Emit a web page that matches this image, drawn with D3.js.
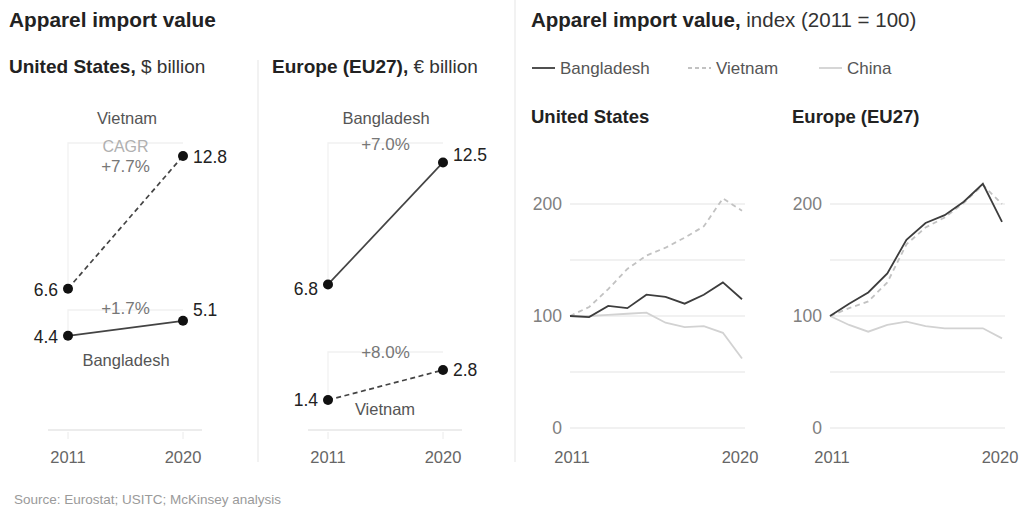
<!DOCTYPE html>
<html>
<head>
<meta charset="utf-8">
<script src="https://cdn.jsdelivr.net/npm/d3@7/dist/d3.min.js"></script>
<style>
  html, body { margin: 0; padding: 0; background: #fff; }
  svg { display: block; font-family: "Liberation Sans", Arial, sans-serif; }
</style>
</head>
<body>
<svg id="chart" width="1026" height="510"></svg>
<script>
// Endpoint values, $ / € billion
const endYears = [2011, 2020];
const usBangladesh = [4.4, 5.1];
const usVietnam = [6.6, 12.8];
const euBangladesh = [6.8, 12.5];
const euVietnam = [1.4, 2.8];
const cagrUS = { vietnam: "+7.7%", bangladesh: "+1.7%" };
const cagrEU = { bangladesh: "+7.0%", vietnam: "+8.0%" };

// Index series, 2011 = 100
const years = [2011, 2012, 2013, 2014, 2015, 2016, 2017, 2018, 2019, 2020];
const usIdxBangladesh = [100, 99, 109, 107, 119, 117, 111, 119, 130, 115];
const usIdxVietnam = [100, 108, 124, 142, 154, 161, 170, 180, 205, 194];
const usIdxChina = [100, 100, 101, 102, 103, 94, 90, 91, 85, 62];
const euIdxBangladesh = [100, 111, 121, 138, 168, 183, 190, 202, 218, 184];
const euIdxVietnam = [100, 107, 113, 130, 164, 179, 188, 201, 217, 200];
const euIdxChina = [100, 92, 86, 92, 95, 91, 89, 89, 89, 80];
const idxTicks = [0, 100, 200];
const idxGrid = [0, 50, 100, 150, 200];

const svg = d3.select("#chart");
const DARK = "#222";
const LINE_DARK = "#3d3d3d";
const LINE_MID = "#c2c2c2";
const LINE_LIGHT = "#d2d2d2";
const GRID = "#ededed";
const TEXT_GRAY = "#555";

// Panel dividers
svg.append("line").attr("x1", 258).attr("x2", 258).attr("y1", 60).attr("y2", 462)
  .attr("stroke", "#eeeeee").attr("stroke-width", 1.5);
svg.append("line").attr("x1", 515).attr("x2", 515).attr("y1", 0).attr("y2", 462)
  .attr("stroke", "#eeeeee").attr("stroke-width", 1.5);

// Titles
svg.append("text").attr("x", 9).attr("y", 27).attr("font-size", 20.8).attr("font-weight", "bold")
  .attr("fill", DARK).text("Apparel import value");

function subTitle(x, bold, rest) {
  const t = svg.append("text").attr("x", x).attr("y", 73).attr("font-size", 19).attr("fill", DARK);
  t.append("tspan").attr("font-weight", "bold").text(bold);
  t.append("tspan").attr("fill", "#333").text(rest);
}
subTitle(9, "United States,", " $ billion");
subTitle(272, "Europe (EU27),", " € billion");

const t2 = svg.append("text").attr("x", 531).attr("y", 27).attr("font-size", 20.5).attr("fill", DARK);
t2.append("tspan").attr("font-weight", "bold").text("Apparel import value,");
t2.append("tspan").attr("fill", "#333").text(" index (2011 = 100)");

// Source
svg.append("text").attr("x", 14).attr("y", 504).attr("font-size", 13.5).attr("fill", "#9a9a9a")
  .text("Source: Eurostat; USITC; McKinsey analysis");

// ---------- Slope panels ----------
const yVal = d3.scaleLinear().domain([0, 12.8]).range([430, 156]);

function slopePanel(x0, x1, series) {
  const x = d3.scalePoint().domain(endYears).range([x0, x1]);
  const g = svg.append("g");

  // Baseline and year ticks
  g.append("line").attr("x1", x0 - 20).attr("x2", x1 + 19).attr("y1", yVal(0)).attr("y2", yVal(0))
    .attr("stroke", "#e6e6e6").attr("stroke-width", 1.3);
  endYears.forEach(yr => {
    g.append("line").attr("x1", x(yr)).attr("x2", x(yr)).attr("y1", yVal(0) + 2).attr("y2", yVal(0) + 9)
      .attr("stroke", "#eaeaea");
    g.append("text").attr("x", x(yr)).attr("y", 463).attr("text-anchor", "middle")
      .attr("font-size", 16.5).attr("fill", "#666").text(yr);
  });

  const cx = (x0 + x1) / 2;
  series.forEach(s => {
    // faint bracket framing the growth label
    const by = s.bracketY;
    g.append("path")
      .attr("d", `M${x(endYears[0])},${s.bracketBottom}V${by}H${x(endYears[1])}`)
      .attr("fill", "none").attr("stroke", "#f1f1f1").attr("stroke-width", 1.3);

    const pts = s.values.map((v, i) => [x(endYears[i]), yVal(v)]);
    g.append("path").attr("d", d3.line()(pts)).attr("fill", "none")
      .attr("stroke", "#444").attr("stroke-width", 1.7)
      .attr("stroke-dasharray", s.dashed ? "5,3.5" : null);
    g.selectAll(null).data(pts).enter().append("circle")
      .attr("cx", d => d[0]).attr("cy", d => d[1]).attr("r", 5).attr("fill", "#111");
    g.append("text").attr("x", pts[0][0] - 10).attr("y", pts[0][1] + s.startDy).attr("text-anchor", "end")
      .attr("font-size", 17.5).attr("fill", DARK).text(d3.format(".1f")(s.values[0]));
    g.append("text").attr("x", pts[1][0] + 10).attr("y", pts[1][1] + s.endDy).attr("font-size", 17.5)
      .attr("fill", DARK).text(d3.format(".1f")(s.values[1]));

    if (s.cagrHead) {
      g.append("text").attr("x", cx).attr("y", by + 9).attr("text-anchor", "middle")
        .attr("font-size", 16).attr("fill", "#b0b0b0").text("CAGR");
      g.append("text").attr("x", cx).attr("y", by + 29).attr("text-anchor", "middle")
        .attr("font-size", 17).attr("fill", "#777").text(s.cagr);
    } else {
      g.append("text").attr("x", cx).attr("y", by + s.cagrDy).attr("text-anchor", "middle")
        .attr("font-size", 17).attr("fill", "#777").text(s.cagr);
    }
    g.append("text").attr("x", s.nameX).attr("y", s.nameY).attr("text-anchor", "middle")
      .attr("font-size", 16.5).attr("fill", TEXT_GRAY).text(s.name);
  });
}

slopePanel(68, 183, [
  { values: usVietnam, dashed: true, name: "Vietnam", nameX: 127, nameY: 124, cagr: cagrUS.vietnam,
    cagrHead: true, bracketY: 143, bracketBottom: 289, startDy: 7, endDy: 7 },
  { values: usBangladesh, dashed: false, name: "Bangladesh", nameX: 126, nameY: 366, cagr: cagrUS.bangladesh,
    cagrDy: 4, bracketY: 310, bracketBottom: 337, startDy: 7, endDy: -5 }
]);

slopePanel(328, 443, [
  { values: euBangladesh, dashed: false, name: "Bangladesh", nameX: 386, nameY: 124, cagr: cagrEU.bangladesh,
    cagrDy: 7, bracketY: 143, bracketBottom: 286, startDy: 11, endDy: -1 },
  { values: euVietnam, dashed: true, name: "Vietnam", nameX: 385, nameY: 415, cagr: cagrEU.vietnam,
    cagrDy: 6, bracketY: 352, bracketBottom: 400, startDy: 6, endDy: 6 }
]);

// ---------- Legend ----------
const legend = [
  { name: "Bangladesh", color: LINE_DARK, dash: null, x: 532 },
  { name: "Vietnam", color: LINE_MID, dash: "4,3", x: 688 },
  { name: "China", color: LINE_LIGHT, dash: null, x: 819 }
];
legend.forEach(l => {
  svg.append("line").attr("x1", l.x).attr("x2", l.x + 23).attr("y1", 68).attr("y2", 68)
    .attr("stroke", l.color).attr("stroke-width", 1.8).attr("stroke-dasharray", l.dash);
  svg.append("text").attr("x", l.x + 28).attr("y", 74).attr("font-size", 17).attr("fill", TEXT_GRAY)
    .text(l.name);
});

// ---------- Index panels ----------
const yIdx = d3.scaleLinear().domain([0, 200]).range([428, 204]);

function indexPanel(x0, x1, titleX, title, bangla, viet, china) {
  const x = d3.scaleLinear().domain([2011, 2020]).range([x0, x1]);
  const g = svg.append("g");
  g.append("text").attr("x", titleX).attr("y", 123).attr("font-size", 18.5).attr("font-weight", "bold")
    .attr("fill", DARK).text(title);

  g.selectAll(null).data(idxGrid).enter().append("line")
    .attr("x1", x0).attr("x2", x1 + 3).attr("y1", d => yIdx(d)).attr("y2", d => yIdx(d))
    .attr("stroke", GRID).attr("stroke-width", 1.3);

  const axis = d3.axisLeft(yIdx).tickValues(idxTicks).tickSize(0).tickPadding(8);
  const ag = g.append("g").attr("transform", `translate(${x0},0)`).call(axis);
  ag.select(".domain").remove();
  ag.selectAll("text").attr("font-size", 17.5).attr("fill", "#808080")
    .attr("font-family", "Liberation Sans, Arial, sans-serif");

  [2011, 2020].forEach(yr => {
    g.append("text").attr("x", x(yr) + (yr === 2011 ? 2 : -2)).attr("y", 463).attr("text-anchor", "middle")
      .attr("font-size", 16.5).attr("fill", "#666").text(yr);
  });

  const line = d3.line().x((d, i) => x(years[i])).y(d => yIdx(d));
  g.append("path").attr("d", line(china)).attr("fill", "none").attr("stroke", LINE_LIGHT).attr("stroke-width", 1.8);
  g.append("path").attr("d", line(viet)).attr("fill", "none").attr("stroke", LINE_MID).attr("stroke-width", 1.8)
    .attr("stroke-dasharray", "5,4");
  g.append("path").attr("d", line(bangla)).attr("fill", "none").attr("stroke", LINE_DARK).attr("stroke-width", 1.8);
}

indexPanel(570, 742, 531, "United States", usIdxBangladesh, usIdxVietnam, usIdxChina);
indexPanel(830, 1002, 792, "Europe (EU27)", euIdxBangladesh, euIdxVietnam, euIdxChina);
</script>
</body>
</html>
